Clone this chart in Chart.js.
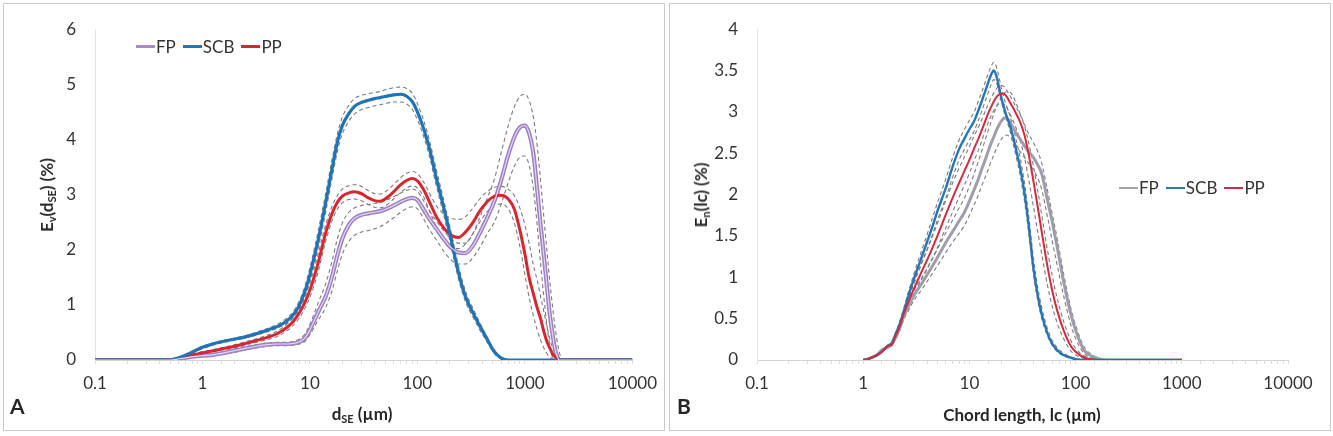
<!DOCTYPE html>
<html lang="en">
<head>
<meta charset="UTF-8">
<title>Ev(dSE) and En(lc) distributions</title>
<script src="https://cdn.jsdelivr.net/npm/chart.js"></script>
<style>
    body { margin: 0; background: #fff; width: 1333px; height: 436px; position: relative; overflow: hidden; font-family: Lato, "Open Sans", sans-serif; }
    .panel { position: absolute; border: 1px solid #c9c9c9; box-sizing: border-box; }
    canvas { position: absolute; top: 0; }
    .txt { position: absolute; color: #262626; white-space: nowrap; }
    .ttl { font-weight: bold; font-size: 17px; transform: translate(-50%, -50%); }
    .ttl sub { font-size: 11px; vertical-align: -3px; }
    .ytl { transform: translate(-50%, -50%) rotate(-90deg); }
    .tag { font-weight: bold; font-size: 21px; }
    .legend { position: absolute; display: flex; align-items: center; font-size: 17px; color: #333; }
    .legend span.ln { display: inline-block; width: 19px; height: 3px; margin-right: 1px; }
    .legend span.lb { margin-right: 7px; }
</style>
</head>
<body>
<div class="panel" style="left:3px;top:3px;width:662px;height:428px"></div>
<div class="panel" style="left:669px;top:3px;width:662px;height:428px"></div>
<canvas id="chartA" width="666" height="436" style="left:0"></canvas>
<canvas id="chartB" width="667" height="436" style="left:666px"></canvas>

<div class="txt ttl ytl" style="left:47px;top:195px">E<sub>v</sub>(d<sub>SE</sub>) (%)</div>
<div class="txt ttl" style="left:362px;top:414px">d<sub>SE</sub> (µm)</div>
<div class="txt tag" style="left:10px;top:393px">A</div>
<div class="txt ttl ytl" style="left:701px;top:195px">E<sub>n</sub>(lc) (%)</div>
<div class="txt ttl" style="left:1022px;top:414px">Chord length, lc (µm)</div>
<div class="txt tag" style="left:677px;top:393px">B</div>

<div class="legend" style="left:136px;top:36px">
    <span class="ln" style="background:#a58bc9"></span><span class="lb">FP</span>
    <span class="ln" style="background:#1f74b8"></span><span class="lb">SCB</span>
    <span class="ln" style="background:#d7262f"></span><span class="lb">PP</span>
</div>
<div class="legend" style="left:1119px;top:177px">
    <span class="ln" style="background:#a3a3a3;height:2px"></span><span class="lb">FP</span>
    <span class="ln" style="background:#2a7ab5;height:2px"></span><span class="lb">SCB</span>
    <span class="ln" style="background:#c8304a;height:2px"></span><span class="lb">PP</span>
</div>

<script>
// ---- Panel A : d_SE (µm) vs Ev(d_SE) (%) ----
const xA = [0.1, 0.5, 0.6, 0.7, 0.8, 0.9, 1, 1.2, 1.5, 2,
    2.5, 3, 4, 5, 6, 7, 8, 9, 10, 11,
    12, 14, 16, 18, 20, 23, 26, 30, 35, 40,
    45, 50, 60, 70, 80, 90, 100, 115, 130, 150,
    175, 200, 240, 280, 330, 380, 450, 520, 600, 700,
    800, 900, 1000, 1100, 1200, 1300, 1400, 1500, 1600, 1700,
    1800, 1900, 2000, 2100, 2200, 2400, 10000];

const scbA = [0, 0, 0.04, 0.09, 0.14, 0.19, 0.23, 0.28, 0.33, 0.38,
    0.42, 0.46, 0.54, 0.61, 0.7, 0.82, 1.0, 1.25, 1.55, 1.88,
    2.2, 2.85, 3.45, 3.95, 4.25, 4.47, 4.6, 4.67, 4.71, 4.74,
    4.76, 4.78, 4.81, 4.82, 4.78, 4.68, 4.5, 4.18, 3.82, 3.3,
    2.78, 2.3, 1.6, 1.15, 0.85, 0.62, 0.36, 0.15, 0.04, 0,
    0, 0, 0, 0, 0, 0, 0, 0, 0, 0,
    0, 0, 0, 0, 0, 0, 0];
const scbHiA = [0, 0, 0.05, 0.1, 0.16, 0.21, 0.25, 0.3, 0.35, 0.4,
    0.44, 0.49, 0.57, 0.65, 0.75, 0.88, 1.08, 1.35, 1.68, 2.02,
    2.36, 3.02, 3.62, 4.1, 4.4, 4.62, 4.74, 4.8, 4.83, 4.85,
    4.87, 4.9, 4.94, 4.95, 4.92, 4.83, 4.65, 4.33, 3.97, 3.45,
    2.92, 2.43, 1.72, 1.25, 0.93, 0.68, 0.4, 0.18, 0.05, 0,
    0, 0, 0, 0, 0, 0, 0, 0, 0, 0,
    0, 0, 0, 0, 0, 0, 0];
const scbLoA = [0, 0, 0.03, 0.08, 0.12, 0.17, 0.21, 0.26, 0.31, 0.36,
    0.4, 0.44, 0.51, 0.58, 0.66, 0.77, 0.93, 1.16, 1.44, 1.75,
    2.05, 2.68, 3.28, 3.78, 4.1, 4.33, 4.46, 4.54, 4.58, 4.61,
    4.63, 4.65, 4.68, 4.68, 4.64, 4.54, 4.36, 4.04, 3.68, 3.16,
    2.64, 2.17, 1.49, 1.06, 0.77, 0.55, 0.31, 0.12, 0.02, 0,
    0, 0, 0, 0, 0, 0, 0, 0, 0, 0,
    0, 0, 0, 0, 0, 0, 0];

const ppA = [0, 0, 0.03, 0.06, 0.09, 0.11, 0.13, 0.16, 0.2, 0.25,
    0.3, 0.34, 0.41, 0.48, 0.58, 0.7, 0.86, 1.05, 1.27, 1.52,
    1.78, 2.3, 2.65, 2.86, 2.97, 3.03, 3.05, 3.02, 2.94, 2.89,
    2.88, 2.92, 3.05, 3.18, 3.26, 3.29, 3.25, 3.08, 2.86, 2.6,
    2.4, 2.28, 2.22, 2.32, 2.5, 2.7, 2.88, 2.97, 2.99, 2.92,
    2.73, 2.35, 1.92, 1.48, 1.2, 0.95, 0.75, 0.52, 0.34, 0.22,
    0.12, 0.06, 0.03, 0.01, 0, 0, 0];
const ppHiA = [0, 0, 0.04, 0.07, 0.1, 0.13, 0.15, 0.18, 0.22, 0.28,
    0.33, 0.37, 0.45, 0.53, 0.64, 0.77, 0.95, 1.16, 1.4, 1.67,
    1.94, 2.45, 2.78, 2.98, 3.1, 3.16, 3.18, 3.15, 3.07, 3.02,
    3.01, 3.05, 3.18, 3.31, 3.39, 3.42, 3.38, 3.22, 3.02, 2.8,
    2.65, 2.58, 2.55, 2.6, 2.76, 2.92, 3.06, 3.13, 3.15, 3.1,
    2.98, 2.75, 2.45, 2.1, 1.72, 1.45, 1.15, 0.88, 0.62, 0.4,
    0.24, 0.13, 0.06, 0.02, 0, 0, 0];
const ppLoA = [0, 0, 0.02, 0.05, 0.08, 0.1, 0.11, 0.14, 0.18, 0.22,
    0.27, 0.31, 0.37, 0.43, 0.52, 0.63, 0.77, 0.94, 1.14, 1.37,
    1.62, 2.15, 2.52, 2.74, 2.85, 2.91, 2.92, 2.89, 2.82, 2.77,
    2.76, 2.79, 2.92, 3.04, 3.12, 3.16, 3.12, 2.95, 2.7, 2.42,
    2.2, 2.08, 2.02, 2.1, 2.3, 2.5, 2.7, 2.8, 2.83, 2.74,
    2.48, 2.05, 1.55, 1.12, 0.8, 0.55, 0.36, 0.22, 0.12, 0.06,
    0.02, 0, 0, 0, 0, 0, 0];

const fpA = [0, 0, 0.02, 0.04, 0.06, 0.07, 0.08, 0.09, 0.12, 0.17,
    0.21, 0.24, 0.28, 0.29, 0.29, 0.3, 0.33, 0.4, 0.55, 0.72,
    0.88, 1.15, 1.5, 1.9, 2.2, 2.45, 2.57, 2.63, 2.66, 2.68,
    2.7, 2.73, 2.8, 2.87, 2.92, 2.94, 2.9, 2.72, 2.55, 2.38,
    2.2, 2.06, 1.95, 1.94, 2.08, 2.3, 2.6, 2.88, 3.25, 3.72,
    4.05, 4.22, 4.25, 4.1, 3.75, 3.1, 2.45, 1.9, 1.35, 0.85,
    0.5, 0.22, 0.06, 0, 0, 0, 0];
const fpHiA = [0, 0, 0.03, 0.05, 0.07, 0.08, 0.1, 0.11, 0.14, 0.2,
    0.24, 0.27, 0.31, 0.32, 0.32, 0.34, 0.38, 0.47, 0.65, 0.85,
    1.05, 1.38, 1.78, 2.2, 2.48, 2.68, 2.76, 2.8, 2.82, 2.84,
    2.86, 2.89, 2.96, 3.03, 3.08, 3.1, 3.06, 2.88, 2.7, 2.52,
    2.35, 2.22, 2.12, 2.12, 2.3, 2.58, 2.95, 3.28, 3.75, 4.25,
    4.6, 4.78, 4.82, 4.7, 4.4, 3.9, 3.25, 2.6, 2.0, 1.45,
    1.0, 0.62, 0.33, 0.13, 0.02, 0, 0];
const fpLoA = [0, 0, 0.01, 0.03, 0.05, 0.06, 0.07, 0.08, 0.1, 0.14,
    0.18, 0.21, 0.25, 0.26, 0.26, 0.27, 0.29, 0.34, 0.46, 0.6,
    0.73, 0.95, 1.25, 1.62, 1.92, 2.15, 2.26, 2.32, 2.35, 2.38,
    2.42, 2.47, 2.58, 2.68, 2.75, 2.78, 2.74, 2.55, 2.36, 2.18,
    1.98, 1.84, 1.74, 1.74, 1.86, 2.04, 2.3, 2.5, 2.82, 3.22,
    3.52, 3.68, 3.7, 3.52, 3.1, 2.45, 1.75, 1.15, 0.65, 0.28,
    0.06, 0, 0, 0, 0, 0, 0];

// ---- Panel B : chord length lc (µm) vs En(lc) (%) ----
const xB = [1, 1.1, 1.2, 1.35, 1.5, 1.7, 1.85, 2, 2.2, 2.4,
    2.7, 3, 3.5, 4, 4.5, 5, 6, 7, 8, 9,
    10, 11, 12, 13, 14, 15, 16, 17, 18, 19,
    20, 21, 22, 24, 26, 28, 30, 33, 36, 40,
    44, 48, 54, 60, 67, 77, 90, 100, 120, 140,
    160, 200, 1000];

const scbB = [0, 0.01, 0.03, 0.06, 0.1, 0.17, 0.2, 0.3, 0.43, 0.58,
    0.8, 0.98, 1.22, 1.43, 1.62, 1.8, 2.08, 2.35, 2.55, 2.68,
    2.79, 2.88, 3.0, 3.12, 3.24, 3.35, 3.45, 3.5, 3.43, 3.3,
    3.17, 3.07, 2.98, 2.84, 2.68, 2.5, 2.33, 2.02, 1.65, 1.12,
    0.78, 0.55, 0.33, 0.2, 0.12, 0.06, 0.03, 0.01, 0, 0,
    0, 0, 0];
const scbHiB = [0, 0.01, 0.03, 0.07, 0.11, 0.18, 0.22, 0.32, 0.46, 0.62,
    0.85, 1.04, 1.3, 1.52, 1.72, 1.9, 2.19, 2.46, 2.66, 2.79,
    2.9, 2.99, 3.11, 3.23, 3.35, 3.46, 3.55, 3.6, 3.54, 3.42,
    3.29, 3.19, 3.1, 2.96, 2.8, 2.62, 2.45, 2.14, 1.77, 1.24,
    0.88, 0.63, 0.39, 0.24, 0.15, 0.08, 0.04, 0.02, 0, 0,
    0, 0, 0];
const scbLoB = [0, 0.01, 0.02, 0.05, 0.09, 0.16, 0.19, 0.28, 0.4, 0.54,
    0.75, 0.92, 1.15, 1.34, 1.52, 1.69, 1.96, 2.22, 2.42, 2.55,
    2.66, 2.76, 2.88, 3.0, 3.12, 3.23, 3.33, 3.39, 3.35, 3.24,
    3.12, 3.02, 2.93, 2.78, 2.6, 2.42, 2.24, 1.92, 1.56, 1.05,
    0.72, 0.5, 0.3, 0.18, 0.1, 0.05, 0.02, 0.01, 0, 0,
    0, 0, 0];

const ppB = [0, 0.01, 0.03, 0.06, 0.1, 0.17, 0.18, 0.28, 0.4, 0.55,
    0.72, 0.86, 1.05, 1.21, 1.36, 1.5, 1.76, 1.97, 2.14, 2.29,
    2.42, 2.55, 2.66, 2.77, 2.88, 2.98, 3.06, 3.13, 3.18, 3.21,
    3.22, 3.22, 3.2, 3.12, 3.04, 2.96, 2.88, 2.72, 2.5, 2.17,
    1.85, 1.55, 1.15, 0.85, 0.6, 0.36, 0.17, 0.1, 0.03, 0.01,
    0, 0, 0];
const ppHiB = [0, 0.01, 0.03, 0.07, 0.11, 0.18, 0.2, 0.3, 0.43, 0.59,
    0.78, 0.94, 1.15, 1.33, 1.5, 1.65, 1.93, 2.15, 2.32, 2.46,
    2.58, 2.7, 2.8, 2.9, 3.0, 3.09, 3.17, 3.23, 3.28, 3.31,
    3.32, 3.31, 3.28, 3.2, 3.12, 3.04, 2.97, 2.83, 2.64, 2.35,
    2.05, 1.75, 1.35, 1.03, 0.75, 0.47, 0.24, 0.14, 0.05, 0.02,
    0, 0, 0];
const ppLoB = [0, 0.01, 0.02, 0.05, 0.09, 0.16, 0.17, 0.26, 0.37, 0.51,
    0.66, 0.79, 0.96, 1.1, 1.23, 1.36, 1.6, 1.8, 1.97, 2.12,
    2.26, 2.4, 2.52, 2.64, 2.76, 2.87, 2.95, 3.02, 3.07, 3.1,
    3.11, 3.1, 3.07, 2.98, 2.88, 2.78, 2.66, 2.45, 2.2, 1.86,
    1.55, 1.28, 0.92, 0.66, 0.45, 0.26, 0.11, 0.06, 0.02, 0,
    0, 0, 0];

const fpB = [0, 0.01, 0.03, 0.06, 0.12, 0.15, 0.19, 0.26, 0.38, 0.52,
    0.66, 0.78, 0.91, 1.03, 1.14, 1.24, 1.42, 1.56, 1.68, 1.79,
    1.92, 2.05, 2.17, 2.3, 2.41, 2.52, 2.62, 2.7, 2.78, 2.84,
    2.89, 2.92, 2.93, 2.88, 2.8, 2.73, 2.67, 2.59, 2.52, 2.45,
    2.36, 2.25, 1.95, 1.68, 1.37, 0.95, 0.56, 0.36, 0.12, 0.05,
    0.02, 0, 0];
const fpHiB = [0, 0.01, 0.03, 0.07, 0.13, 0.16, 0.2, 0.28, 0.41, 0.56,
    0.71, 0.84, 0.98, 1.11, 1.23, 1.34, 1.54, 1.7, 1.84, 1.96,
    2.1, 2.24, 2.38, 2.52, 2.65, 2.77, 2.88, 2.98, 3.06, 3.13,
    3.18, 3.22, 3.24, 3.24, 3.18, 3.08, 2.98, 2.85, 2.74, 2.63,
    2.52, 2.38, 2.07, 1.78, 1.47, 1.05, 0.63, 0.42, 0.16, 0.07,
    0.03, 0, 0];
const fpLoB = [0, 0.01, 0.02, 0.05, 0.11, 0.14, 0.18, 0.24, 0.35, 0.48,
    0.61, 0.72, 0.84, 0.95, 1.05, 1.14, 1.3, 1.43, 1.53, 1.63,
    1.75, 1.87, 1.98, 2.1, 2.2, 2.3, 2.4, 2.48, 2.56, 2.62,
    2.67, 2.7, 2.72, 2.7, 2.64, 2.58, 2.52, 2.45, 2.38, 2.3,
    2.2, 2.06, 1.75, 1.45, 1.15, 0.78, 0.43, 0.26, 0.08, 0.03,
    0.01, 0, 0];

function pts(xs, ys) {
    return xs.map((x, i) => ({ x: x, y: ys[i] }));
}

function solid(xs, ys, color, width) {
    return { data: pts(xs, ys), borderColor: color, borderWidth: width, order: 0 };
}

function dashed(xs, ys) {
    return { data: pts(xs, ys), borderColor: '#7a7a7a', borderWidth: 1.1, borderDash: [4, 3], order: 2 };
}

function makeChart(id, datasets, yMax, yStep, yWidth, padRight) {
    const tickFont = { family: 'Lato', size: 17 };
    return new Chart(document.getElementById(id), {
        type: 'line',
        data: { datasets: datasets },
        options: {
            responsive: false,
            animation: false,
            events: [],
            layout: { padding: { top: 28, right: padRight, bottom: 0, left: 0 } },
            elements: {
                point: { radius: 0 },
                line: { tension: 0.4, cubicInterpolationMode: 'monotone', fill: false }
            },
            plugins: { legend: { display: false }, tooltip: { enabled: false } },
            scales: {
                x: {
                    type: 'logarithmic',
                    min: 0.1,
                    max: 10000,
                    afterFit: function (scale) { scale.height = 76; },
                    grid: { drawOnChartArea: false, drawTicks: true, tickLength: 4, color: '#dcdcdc' },
                    border: { color: '#d4d4d4' },
                    ticks: {
                        autoSkip: false,
                        maxRotation: 0,
                        padding: 9,
                        color: '#333',
                        font: tickFont,
                        callback: function (v) {
                            const l = Math.log10(v);
                            if (Math.abs(l - Math.round(l)) > 1e-6) return '';
                            return v < 1 ? '0.1' : String(Math.round(v));
                        }
                    }
                },
                y: {
                    min: 0,
                    max: yMax,
                    afterFit: function (scale) { scale.width = yWidth; },
                    grid: { display: false, drawTicks: false },
                    border: { display: true, color: '#e2e2e2' },
                    ticks: {
                        stepSize: yStep,
                        padding: 19,
                        color: '#333',
                        font: tickFont,
                        callback: function (v) { return String(Number(v.toFixed(2))); }
                    }
                }
            }
        }
    });
}

// FP in panel A drawn as a purple line with a light core
makeChart('chartA', [
    solid(xA, fpA, '#e3d6f2', 1.2),
    solid(xA, scbA, '#1f74b8', 3.2),
    solid(xA, ppA, '#d7262f', 3),
    Object.assign(solid(xA, fpA, '#9d80c4', 4.2), { order: 1 }),
    dashed(xA, scbHiA), dashed(xA, scbLoA),
    dashed(xA, ppHiA), dashed(xA, ppLoA),
    dashed(xA, fpHiA), dashed(xA, fpLoA)
], 6, 1, 95, 33);

makeChart('chartB', [
    solid(xB, ppB, '#d42a3c', 2),
    solid(xB, scbB, '#2576b9', 2.4),
    Object.assign(solid(xB, fpB, '#a09cab', 3), { order: 1 }),
    dashed(xB, scbHiB), dashed(xB, scbLoB),
    dashed(xB, ppHiB), dashed(xB, ppLoB),
    dashed(xB, fpHiB), dashed(xB, fpLoB)
], 4, 0.5, 91, 45);
</script>
</body>
</html>
